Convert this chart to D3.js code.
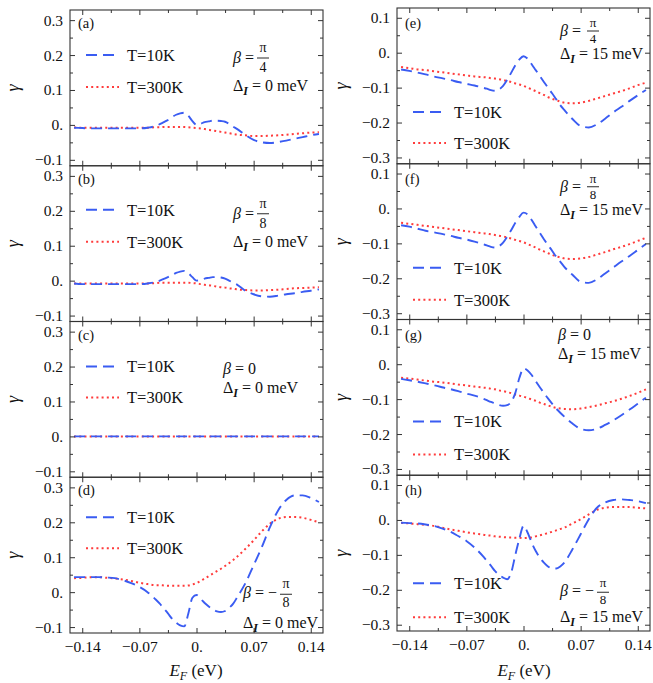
<!DOCTYPE html>
<html><head><meta charset="utf-8">
<script src="https://cdn.jsdelivr.net/npm/d3@7"></script>
<style>
body{margin:0;background:#fff}
svg text{font-family:"Liberation Serif","Times New Roman",serif;fill:#111}
</style>
</head><body>
<svg id="chart" width="653" height="683"></svg>
<script>
// ---------- data ----------
const energy = [-0.15,-0.14,-0.13,-0.12,-0.11,-0.10,-0.09,-0.08,-0.07,-0.06,-0.05,
  -0.045,-0.04,-0.035,-0.03,-0.025,-0.02,-0.015,-0.01,-0.005,
  0,
  0.005,0.01,0.015,0.02,0.025,0.03,0.035,0.04,0.045,
  0.05,0.06,0.07,0.08,0.09,0.10,0.11,0.12,0.13,0.14,0.15];

const blueA = [-0.008,-0.009,-0.010,-0.010,-0.010,-0.010,-0.010,-0.010,-0.010,-0.008,-0.003,
  0.002,0.008,0.014,0.022,0.029,0.033,0.035,0.026,0.011,
  0.000,
  0.003,0.008,0.010,0.012,0.012,0.011,0.009,0.003,-0.005,
  -0.012,-0.029,-0.043,-0.050,-0.052,-0.049,-0.045,-0.040,-0.035,-0.030,-0.026];
const redA = [-0.007,-0.008,-0.008,-0.008,-0.008,-0.008,-0.008,-0.008,-0.008,-0.008,-0.007,
  -0.007,-0.006,-0.006,-0.006,-0.006,-0.006,-0.006,-0.007,-0.008,
  -0.009,
  -0.010,-0.012,-0.014,-0.016,-0.018,-0.020,-0.022,-0.024,-0.026,
  -0.028,-0.030,-0.032,-0.032,-0.031,-0.030,-0.028,-0.026,-0.024,-0.022,-0.021];

const blueB = [-0.008,-0.010,-0.010,-0.010,-0.010,-0.010,-0.010,-0.010,-0.010,-0.008,-0.004,
  0.000,0.005,0.010,0.016,0.022,0.026,0.028,0.021,0.010,
  0.000,
  0.002,0.006,0.008,0.010,0.010,0.009,0.006,0.000,-0.006,
  -0.012,-0.029,-0.039,-0.045,-0.046,-0.043,-0.039,-0.036,-0.032,-0.029,-0.025];
const redB = [-0.008,-0.008,-0.008,-0.008,-0.008,-0.008,-0.008,-0.008,-0.008,-0.008,-0.007,
  -0.006,-0.006,-0.006,-0.006,-0.006,-0.006,-0.006,-0.006,-0.007,
  -0.008,
  -0.010,-0.012,-0.013,-0.015,-0.017,-0.019,-0.020,-0.022,-0.023,
  -0.025,-0.027,-0.028,-0.028,-0.027,-0.026,-0.024,-0.022,-0.021,-0.020,-0.019];

const blueC = [0,0,0,0,0,0,0,0,0,0,0, 0,0,0,0,0,0,0,0,0, 0, 0,0,0,0,0,0,0,0,0, 0,0,0,0,0,0,0,0,0,0,0];
const redC  = [0,0,0,0,0,0,0,0,0,0,0, 0,0,0,0,0,0,0,0,0, 0, 0,0,0,0,0,0,0,0,0, 0,0,0,0,0,0,0,0,0,0,0];

const blueD = [0.043,0.043,0.043,0.043,0.042,0.040,0.034,0.026,0.015,0.000,-0.021,
  -0.033,-0.047,-0.061,-0.076,-0.087,-0.095,-0.098,-0.061,-0.016,
  -0.008,
  -0.019,-0.031,-0.041,-0.049,-0.055,-0.057,-0.054,-0.045,-0.033,
  -0.014,0.026,0.077,0.129,0.186,0.234,0.264,0.277,0.277,0.270,0.258];
const redD = [0.040,0.041,0.043,0.043,0.041,0.039,0.036,0.032,0.027,0.023,0.020,
  0.020,0.019,0.018,0.018,0.018,0.018,0.018,0.019,0.022,
  0.026,
  0.032,0.039,0.046,0.053,0.060,0.067,0.075,0.083,0.092,
  0.102,0.124,0.148,0.174,0.196,0.210,0.215,0.215,0.213,0.207,0.200];

const blueE = [-0.048,-0.052,-0.057,-0.062,-0.068,-0.073,-0.078,-0.084,-0.089,-0.094,-0.100,
  -0.103,-0.107,-0.109,-0.105,-0.095,-0.078,-0.057,-0.036,-0.019,
  -0.010,
  -0.017,-0.033,-0.050,-0.067,-0.084,-0.100,-0.116,-0.133,-0.150,
  -0.164,-0.190,-0.210,-0.214,-0.205,-0.189,-0.171,-0.155,-0.138,-0.122,-0.107];
const redE = [-0.041,-0.044,-0.048,-0.050,-0.053,-0.056,-0.059,-0.062,-0.065,-0.068,-0.070,
  -0.071,-0.073,-0.074,-0.076,-0.078,-0.081,-0.084,-0.088,-0.091,
  -0.095,
  -0.100,-0.105,-0.110,-0.116,-0.121,-0.127,-0.132,-0.136,-0.140,
  -0.143,-0.145,-0.143,-0.138,-0.131,-0.124,-0.117,-0.110,-0.102,-0.093,-0.086];

const blueF = [-0.048,-0.052,-0.058,-0.064,-0.068,-0.073,-0.078,-0.084,-0.089,-0.095,-0.102,
  -0.106,-0.110,-0.112,-0.108,-0.098,-0.081,-0.062,-0.041,-0.024,
  -0.012,
  -0.017,-0.033,-0.052,-0.070,-0.088,-0.105,-0.121,-0.138,-0.152,
  -0.167,-0.190,-0.210,-0.213,-0.203,-0.186,-0.169,-0.152,-0.136,-0.119,-0.102];
const redF = [-0.041,-0.044,-0.047,-0.050,-0.053,-0.056,-0.059,-0.062,-0.065,-0.068,-0.071,
  -0.072,-0.074,-0.076,-0.078,-0.080,-0.083,-0.086,-0.090,-0.093,
  -0.097,
  -0.102,-0.107,-0.112,-0.118,-0.123,-0.128,-0.133,-0.137,-0.140,
  -0.143,-0.145,-0.143,-0.139,-0.132,-0.125,-0.117,-0.110,-0.102,-0.093,-0.084];

const blueG = [-0.042,-0.046,-0.050,-0.055,-0.060,-0.066,-0.071,-0.077,-0.084,-0.090,-0.098,
  -0.103,-0.108,-0.112,-0.117,-0.119,-0.117,-0.108,-0.082,-0.039,
  -0.012,
  -0.018,-0.031,-0.049,-0.066,-0.082,-0.098,-0.113,-0.127,-0.139,
  -0.150,-0.170,-0.185,-0.189,-0.185,-0.174,-0.161,-0.146,-0.130,-0.113,-0.096];
const redG = [-0.039,-0.041,-0.044,-0.047,-0.050,-0.052,-0.055,-0.058,-0.061,-0.064,-0.067,
  -0.068,-0.070,-0.072,-0.075,-0.077,-0.080,-0.083,-0.087,-0.090,
  -0.093,
  -0.097,-0.101,-0.105,-0.110,-0.114,-0.118,-0.122,-0.125,-0.127,
  -0.128,-0.129,-0.127,-0.123,-0.118,-0.112,-0.106,-0.099,-0.091,-0.082,-0.072];

const blueH = [-0.008,-0.009,-0.010,-0.013,-0.017,-0.024,-0.033,-0.046,-0.060,-0.079,-0.103,
  -0.117,-0.131,-0.146,-0.157,-0.165,-0.170,-0.150,-0.100,-0.053,
  -0.017,
  -0.036,-0.065,-0.089,-0.108,-0.122,-0.133,-0.139,-0.139,-0.133,
  -0.122,-0.084,-0.041,0.002,0.035,0.050,0.057,0.059,0.057,0.054,0.048];
const redH = [-0.008,-0.010,-0.012,-0.014,-0.017,-0.022,-0.027,-0.031,-0.035,-0.039,-0.042,
  -0.044,-0.045,-0.047,-0.048,-0.049,-0.050,-0.050,-0.051,-0.051,
  -0.052,
  -0.051,-0.050,-0.047,-0.044,-0.041,-0.037,-0.034,-0.030,-0.026,
  -0.022,-0.010,0.002,0.016,0.029,0.035,0.037,0.037,0.037,0.035,0.033];

const yTicksLeft = [-0.1, 0, 0.1, 0.2, 0.3];
const yMinorLeft = [-0.05, 0.05, 0.15, 0.25];
const yTicksRight = [-0.3, -0.2, -0.1, 0, 0.1];
const yMinorRight = [-0.25, -0.15, -0.05, 0.05];
const xTicks = [-0.14, -0.07, 0, 0.07, 0.14];
const xMinor = [-0.105, -0.035, 0.035, 0.105];
const seriesNames = ["T=10K", "T=300K"];
const panelLabels = ["(a)","(b)","(c)","(d)","(e)","(f)","(g)","(h)"];
const betaNum = ["π","π","","π","π","π","","π"];
const betaDen = ["4","8","","8","4","8","","8"];
const betaSign = ["","","","−","","","","−"];
const deltaValues = ["0","0","0","0","15","15","15","15"];

// ---------- layout ----------
const svg = d3.select("#chart");
const BLUE = "#3a5cf2", RED = "#ff3b3b", FRAME = "#333";
const panelH = 155.75;
const blues = [blueA, blueB, blueC, blueD, blueE, blueF, blueG, blueH];
const reds = [redA, redB, redC, redD, redE, redF, redG, redH];

// per-panel annotation layout (offsets relative to panel left/top)
const layout = [
  {leg:[45,77],  bx:163, bb:53,  nb:42,  bar:48,  db:62,  fc:193, fs:14, dy:81},
  {leg:[44,76],  bx:163, bb:53,  nb:42,  bar:48,  db:62,  fc:193, fs:14, dy:81},
  {leg:[45,76],  bx:153, bb:52,  fc:0,   dy:71},
  {leg:[40,71],  bx:173, bb:121, nb:111, bar:117, db:130, fc:216, fs:14, dy:151},
  {leg:[104,135],bx:163, bb:28,  nb:19,  bar:23,  db:35,  fc:196, fs:13, dy:51},
  {leg:[104,136],bx:163, bb:28,  nb:19,  bar:23,  db:35,  fc:196, fs:13, dy:51},
  {leg:[102,135],bx:161, bb:20,  fc:0,   dy:39},
  {leg:[108,142],bx:163, bb:121, nb:112, bar:117, db:129, fc:206, fs:13, dy:147}
];

const fmtY = d => d === 0 ? "0." : d3.format(".1f")(d);
const fmtX = d => d === 0 ? "0." : d3.format(".2f")(d);

function drawPanel(i) {
  const col = i < 4 ? 0 : 1, row = i % 4;
  const pl = col === 0 ? 70 : 397, pr = pl + 253;
  const pt = (col === 0 ? 10 : 8) + row * panelH, pb = pt + panelH;
  const x = d3.scaleLinear().domain([-0.155, 0.155]).range([pl, pr]);
  const y = d3.scaleLinear().domain(col === 0 ? [-0.117, 0.329] : [-0.318, 0.128]).range([pb, pt]);
  const yT = col === 0 ? yTicksLeft : yTicksRight;
  const yM = col === 0 ? yMinorLeft : yMinorRight;
  const g = svg.append("g");

  // curves
  const line = d3.line().x((d, k) => x(energy[k])).y(d => y(d)).curve(d3.curveMonotoneX);
  g.append("path").datum(reds[i]).attr("d", line).attr("fill", "none")
    .attr("stroke", RED).attr("stroke-width", 2).attr("stroke-dasharray", "2,3.2");
  g.append("path").datum(blues[i]).attr("d", line).attr("fill", "none")
    .attr("stroke", BLUE).attr("stroke-width", 1.9).attr("stroke-dasharray", "11,6");

  // axes (inward ticks)
  const axL = d3.axisLeft(y).tickValues(yT).tickFormat(fmtY).tickSizeInner(-5).tickSizeOuter(0).tickPadding(7);
  const gL = g.append("g").attr("transform", `translate(${pl},0)`).call(axL);
  gL.selectAll("text").style("font-size", "15.5px");
  g.append("g").attr("transform", `translate(${pl},0)`).call(d3.axisLeft(y).tickValues(yM).tickFormat("").tickSizeInner(-3).tickSizeOuter(0));
  g.append("g").attr("transform", `translate(${pr},0)`).call(d3.axisRight(y).tickValues(yT).tickFormat("").tickSizeInner(-5).tickSizeOuter(0));
  g.append("g").attr("transform", `translate(${pr},0)`).call(d3.axisRight(y).tickValues(yM).tickFormat("").tickSizeInner(-3).tickSizeOuter(0));

  const axB = d3.axisBottom(x).tickValues(xTicks).tickFormat(row === 3 ? fmtX : "").tickSizeInner(-5).tickSizeOuter(0).tickPadding(8);
  const gB = g.append("g").attr("transform", `translate(0,${pb})`).call(axB);
  gB.selectAll("text").style("font-size", "15.5px");
  g.append("g").attr("transform", `translate(0,${pb})`).call(d3.axisBottom(x).tickValues(xMinor).tickFormat("").tickSizeInner(-3).tickSizeOuter(0));
  g.append("g").attr("transform", `translate(0,${pt})`).call(d3.axisTop(x).tickValues(xTicks).tickFormat("").tickSizeInner(-5).tickSizeOuter(0));
  g.append("g").attr("transform", `translate(0,${pt})`).call(d3.axisTop(x).tickValues(xMinor).tickFormat("").tickSizeInner(-3).tickSizeOuter(0));
  g.selectAll(".domain").remove();
  g.selectAll(".tick line").attr("stroke", FRAME);

  // frame
  g.append("rect").attr("x", pl).attr("y", pt).attr("width", pr - pl).attr("height", pb - pt)
    .attr("fill", "none").attr("stroke", FRAME).attr("stroke-width", 1.1);

  // panel label
  g.append("text").attr("x", pl + 8).attr("y", pt + (col === 0 ? 18 : 20))
    .style("font-size", "14.5px").text(panelLabels[i]);

  // y label
  const yl = col === 0 ? 14 : 342;
  g.append("text").attr("transform", `translate(${yl},${(pt + pb) / 2}) rotate(-90)`)
    .attr("text-anchor", "middle").attr("dy", "0.3em")
    .style("font-size", "18px").style("font-style", "italic").text("γ");

  // legend
  const L = layout[i];
  [0, 1].forEach(k => {
    const ly = pt + L.leg[k];
    g.append("line").attr("x1", pl + 16).attr("x2", pl + 49).attr("y1", ly).attr("y2", ly)
      .attr("stroke", k === 0 ? BLUE : RED).attr("stroke-width", k === 0 ? 1.9 : 2)
      .attr("stroke-dasharray", k === 0 ? "11,6" : "2,3.2");
    g.append("text").attr("x", pl + 57).attr("y", ly).attr("dy", "0.36em")
      .style("font-size", "16.5px").text(seriesNames[k]);
  });

  // beta annotation
  const t = g.append("text").attr("x", pl + L.bx).attr("y", pt + L.bb).style("font-size", "16px");
  t.append("tspan").style("font-style", "italic").text("β");
  if (betaNum[i] === "") {
    t.append("tspan").text(" = 0");
  } else {
    t.append("tspan").text(" = " + betaSign[i]);
    const fc = pl + L.fc;
    g.append("text").attr("x", fc).attr("y", pt + L.nb).attr("text-anchor", "middle")
      .style("font-size", L.fs + "px").text(betaNum[i]);
    g.append("line").attr("x1", fc - 6).attr("x2", fc + 6).attr("y1", pt + L.bar).attr("y2", pt + L.bar)
      .attr("stroke", "#111").attr("stroke-width", 0.9);
    g.append("text").attr("x", fc).attr("y", pt + L.db).attr("text-anchor", "middle")
      .style("font-size", L.fs + "px").text(betaDen[i]);
  }
  // delta annotation
  const dt = g.append("text").attr("x", pl + L.bx).attr("y", pt + L.dy).style("font-size", "16px");
  dt.append("tspan").text("Δ");
  dt.append("tspan").attr("dy", 4).style("font-size", "12px").style("font-style", "italic").style("font-weight", "bold").text("I");
  dt.append("tspan").attr("dy", -4).text(" = " + deltaValues[i] + " meV");
}

for (let i = 0; i < 8; i++) drawPanel(i);

// x-axis titles
[196, 524].forEach(cx => {
  const t = svg.append("text").attr("x", cx).attr("y", 676).attr("text-anchor", "middle").style("font-size", "17px");
  t.append("tspan").style("font-style", "italic").text("E");
  t.append("tspan").attr("dy", 4).style("font-size", "12px").style("font-style", "italic").text("F");
  t.append("tspan").attr("dy", -4).text(" (eV)");
});
</script>
</body></html>
